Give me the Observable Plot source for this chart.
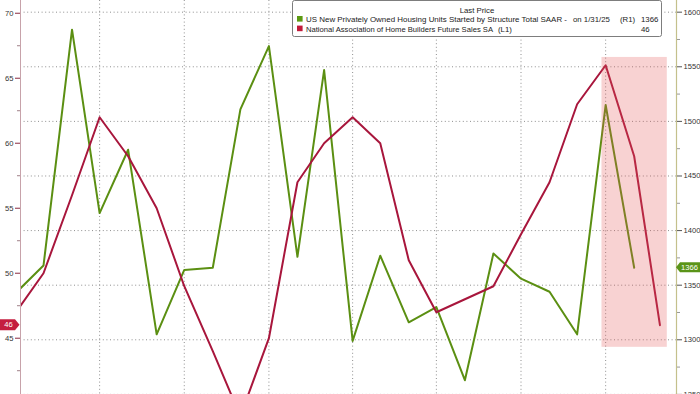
<!DOCTYPE html>
<html><head><meta charset="utf-8">
<script src="https://cdn.jsdelivr.net/npm/d3@7"></script>
<script src="https://cdn.jsdelivr.net/npm/@observablehq/plot@0.6"></script>
<style>
html,body{margin:0;padding:0;background:#fff;overflow:hidden;}
#chart{width:700px;height:394px;}
</style></head><body><div id="chart"></div>
<script>
// ---- data (month-end observations) ----
const months = ["2023-03-31","2023-04-30","2023-05-31","2023-06-30","2023-07-31","2023-08-31","2023-09-30","2023-10-31","2023-11-30","2023-12-31",
  "2024-01-31","2024-02-29","2024-03-31","2024-04-30","2024-05-31","2024-06-30","2024-07-31","2024-08-31","2024-09-30","2024-10-31","2024-11-30","2024-12-31",
  "2025-01-31","2025-02-28"];
// NAHB Future Sales SA (left axis, L1)
const futureSales = [47,50,56,62,59,55,49,44,39,45,57,60,62,60,51,47,48,49,53,57,63,66,59,46];
// US housing starts SAAR, thousands (right axis, R1)
const housingStarts = [1343,1368,1584,1416,1474,1305,1364,1366,1511,1569,1376,1547,1299,1377,1316,1330,1263,1379,1356,1344,1305,1515,1366,null];

const leftTicks = [45,50,55,60,65,70];
const leftMinorTicks = [42.5,47.5,52.5,57.5,62.5,67.5];
const rightTicks = [1250,1300,1350,1400,1450,1500,1550,1600];
const rightMinorTicks = [1275,1325,1375,1425,1475,1525,1575];
const gridDates = ["2023-06-30","2023-09-30","2023-12-31","2024-03-31","2024-06-30","2024-09-30","2024-12-31"];

const legendTitle = "Last Price";
const seriesNames = ["US New Privately Owned Housing Units Started by Structure Total SAAR -",
                     "National Association of Home Builders Future Sales SA"];
const seriesDate = "on 1/31/25";
const seriesAxes = ["(R1)", "(L1)"];
const lastValues = ["1366", "46"];

// highlighted window (annotation)
const shadeX = ["2024-12-27", "2025-03-08"];
const shadeY = [44.3, 66.6];

// ---- scales ----
const parse = d => new Date(d + "T00:00:00Z");
const xDomain = [parse("2023-04-05"), parse("2025-03-18")];
const leftDomain = [40.67, 70.98];
const rightDomain = [1249.9, 1610.7];
const toLeft = d3.scaleLinear().domain(rightDomain).range(leftDomain);
const fromLeft = toLeft.invert;

const GREEN = "#5b8f12", RED = "#a8163c";
const data = months.map((m, i) => ({
  date: parse(m),
  red: futureSales[i],
  green: housingStarts[i] == null ? null : toLeft(housingStarts[i])
}));

const font = "'Liberation Sans', Arial, sans-serif";
const plot = Plot.plot({
  width: 700, height: 394,
  marginTop: 0, marginBottom: 0, marginLeft: 20, marginRight: 24,
  x: {type: "utc", domain: xDomain, axis: null},
  y: {domain: leftDomain, axis: null},
  style: {fontFamily: font, fontSize: "7.6px", color: "#333", background: "#fff", overflow: "hidden"},
  marks: [
    Plot.ruleY(rightTicks.map(toLeft), {stroke: "#8f8f8f", strokeDasharray: "1,2.6", strokeWidth: 1}),
    Plot.ruleX(gridDates.map(parse), {stroke: "#8f8f8f", strokeDasharray: "1,2.6", strokeWidth: 1}),
    Plot.line(data, {x: "date", y: "green", stroke: GREEN, strokeWidth: 2, clip: true}),
    Plot.line(data, {x: "date", y: "red", stroke: RED, strokeWidth: 2, clip: true}),
    Plot.rect([0], {x1: () => parse(shadeX[0]), x2: () => parse(shadeX[1]), y1: () => shadeY[0], y2: () => shadeY[1], fill: "#e65a5a", fillOpacity: 0.27}),
    Plot.ruleX([xDomain[0]], {stroke: "#c7a2aa", strokeWidth: 1}),
    Plot.ruleX([xDomain[1]], {stroke: "#c4c08c", strokeWidth: 1.2}),
    Plot.axisY(leftTicks, {anchor: "left", tickSize: 5, tickPadding: 2, stroke: "#8a2a40", fill: "#333", fontSize: 7.6}),
    Plot.axisY(leftMinorTicks, {anchor: "left", tickSize: 3, tickFormat: () => "", stroke: "#a08088"}),
    Plot.axisY(rightTicks.map(toLeft), {anchor: "right", tickSize: 5, tickPadding: 2, stroke: "#555", fill: "#333", fontSize: 7.6, tickFormat: d => String(Math.round(fromLeft(d)))}),
    Plot.axisY(rightMinorTicks.map(toLeft), {anchor: "right", tickSize: 3, tickFormat: () => "", stroke: "#999"})
  ]
});
document.getElementById("chart").appendChild(plot);

// ---- overlays: last-value badges and legend ----
const svg = d3.select(plot);
const ys = plot.scale("y");
const g = svg.append("g");

const yl = ys.apply(futureSales[futureSales.length - 1]);
g.append("path").attr("d", `M0,${yl-5.5}H15L19.5,${yl}L15,${yl+5.5}H0Z`).attr("fill", "#c41e3f");
g.append("text").attr("x", 8.5).attr("y", yl).attr("dy", "0.35em").attr("text-anchor", "middle")
  .attr("fill", "#fff").attr("font-size", 7.6).attr("font-family", font).text(lastValues[1]);

const yr = ys.apply(toLeft(+lastValues[0]));
g.append("path").attr("d", `M700,${yr-5}H680L676,${yr}L680,${yr+5}H700Z`).attr("fill", "#5a9418");
g.append("text").attr("x", 689.5).attr("y", yr).attr("dy", "0.35em").attr("text-anchor", "middle")
  .attr("fill", "#fff").attr("font-size", 7.6).attr("font-family", font).text(lastValues[0]);

const lg = svg.append("g").attr("font-family", font).attr("font-size", 7.8).attr("fill", "#222").attr("text-anchor", "start");
lg.append("rect").attr("x", 292.5).attr("y", 0.5).attr("width", 369).attr("height", 36).attr("rx", 2)
  .attr("fill", "#fff").attr("stroke", "#7d7d7d");
lg.append("text").attr("x", 477).attr("y", 12.8).attr("text-anchor", "middle").text(legendTitle);
const rowsY = [22, 31.6];
const sq = ["#5c9a12", "#c21a3a"];
const mainLen = [261, 187];
const axX = [620, 498];
rowsY.forEach((y, i) => {
  lg.append("rect").attr("x", 297).attr("y", y - 6).attr("width", 5.6).attr("height", 5.6).attr("fill", sq[i]);
  lg.append("text").attr("x", 306).attr("y", y).attr("text-anchor", "start").attr("textLength", mainLen[i]).attr("lengthAdjust", "spacingAndGlyphs").text(seriesNames[i]);
  lg.append("text").attr("x", axX[i]).attr("y", y).attr("text-anchor", "start").text(seriesAxes[i]);
  lg.append("text").attr("x", 641).attr("y", y).attr("text-anchor", "start").text(lastValues[i]);
});
lg.append("text").attr("x", 573).attr("y", rowsY[0]).attr("text-anchor", "start").text(seriesDate);
</script></body></html>
